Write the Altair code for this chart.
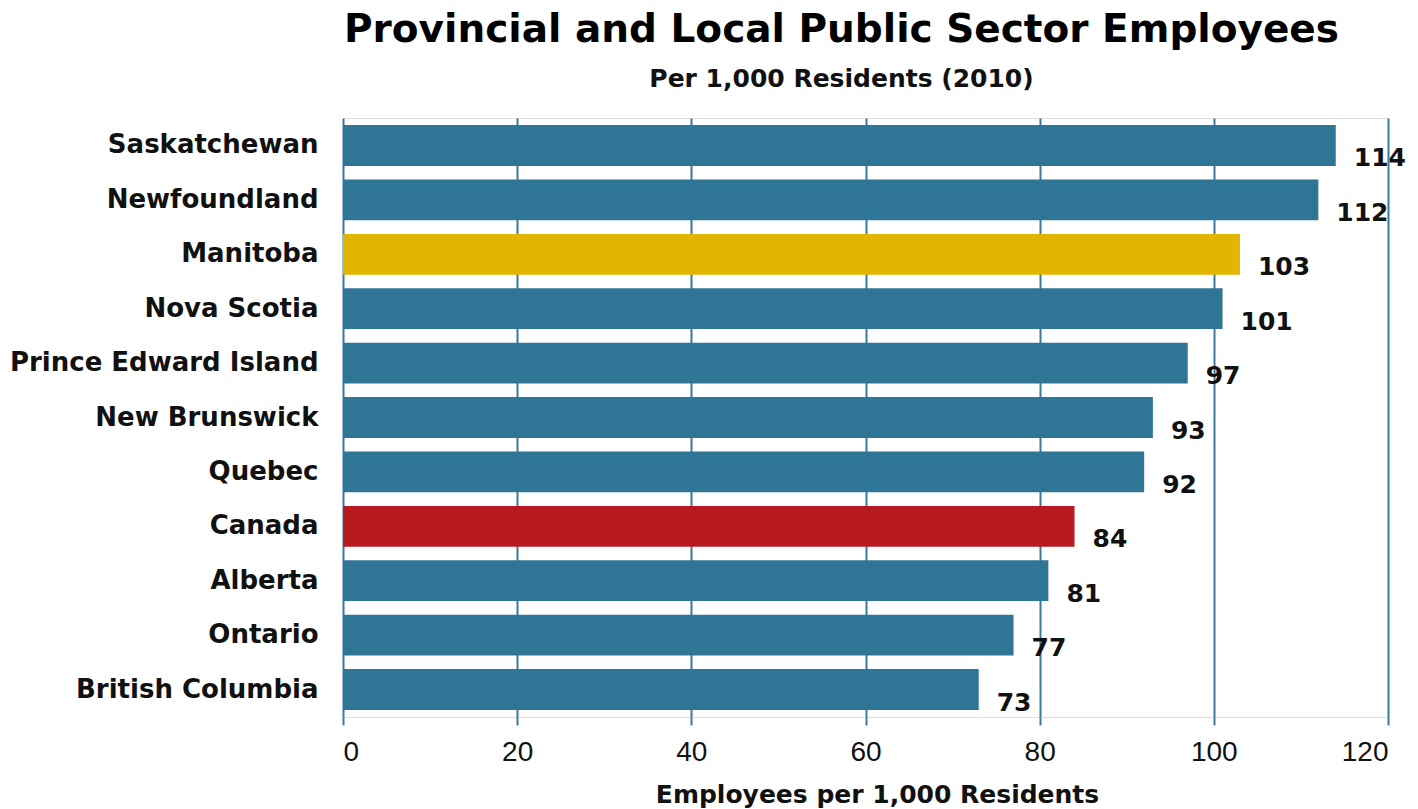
import altair as alt
import pandas as pd

provinces = ["Saskatchewan", "Newfoundland", "Manitoba", "Nova Scotia",
             "Prince Edward Island", "New Brunswick", "Quebec", "Canada",
             "Alberta", "Ontario", "British Columbia"]
values = [114, 112, 103, 101, 97, 93, 92, 84, 81, 77, 73]
groups = ["other", "other", "Manitoba", "other", "other", "other", "other",
          "Canada", "other", "other", "other"]

df = pd.DataFrame({"province": provinces, "value": values, "group": groups})

color_scale = alt.Scale(domain=["other", "Manitoba", "Canada"],
                        range=["#2f7595", "#e3b503", "#b71a20"])

y_enc = alt.Y("province:N", sort=provinces, title=None,
              scale=alt.Scale(paddingInner=0.25, paddingOuter=0.13),
              axis=alt.Axis(labelFont="DejaVu Sans", labelFontWeight="bold",
                            labelFontSize=26, labelColor="#111111",
                            labelPadding=25, ticks=False, domain=False,
                            grid=False, labelLimit=400))

x_enc = alt.X("value:Q", title="Employees per 1,000 Residents",
              scale=alt.Scale(domain=[0, 120], nice=False),
              axis=alt.Axis(values=[0, 20, 40, 60, 80, 100, 120],
                            grid=True, gridColor="#3b789f", gridWidth=2,
                            gridOpacity=1, domain=False,
                            ticks=True, tickSize=8, tickColor="#3b789f",
                            tickWidth=2, labelFont="Liberation Sans",
                            labelFontSize=28, labelColor="#111111",
                            labelPadding=13, titleFont="DejaVu Sans",
                            titleFontWeight="bold", titleFontSize=25,
                            titleColor="#111111", titlePadding=16,
                            titleX=534, titleAlign="center"))

bars = alt.Chart(df).mark_bar().encode(
    x=x_enc,
    y=y_enc,
    color=alt.Color("group:N", scale=color_scale, legend=None),
)

labels = alt.Chart(df).mark_text(
    align="left", baseline="middle", dx=18, dy=13,
    font="DejaVu Sans", fontWeight="bold", fontSize=25, color="#111111"
).encode(
    x="value:Q",
    y=alt.Y("province:N", sort=provinces),
    text="value:Q",
)

chart = alt.layer(bars, labels).properties(
    width=1045, height=599,
    padding={"left": 343, "top": 118, "right": 30, "bottom": 92},
    autosize=alt.AutoSizeParams(type="none"),
    title=alt.TitleParams(
        text="Provincial and Local Public Sector Employees",
        subtitle="Per 1,000 Residents (2010)",
        font="DejaVu Sans", fontSize=39, fontWeight="bold", color="#000000",
        subtitleFont="DejaVu Sans", subtitleFontSize=25,
        subtitleFontWeight="bold", subtitleColor="#111111",
        subtitlePadding=17, anchor="middle", dx=-24, offset=26,
    ),
).configure_view(stroke=None).configure(background="white")

chart.save("out.html", embed_options={"renderer": "svg", "actions": False})
